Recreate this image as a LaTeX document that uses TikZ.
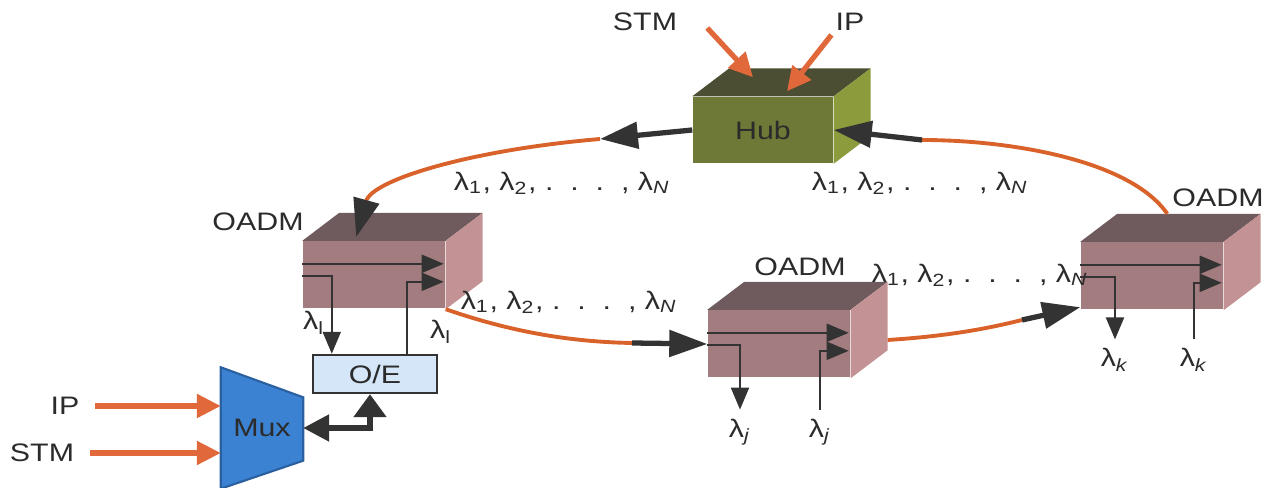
\documentclass[tikz,border=0pt]{standalone}
\usepackage{fontspec}
\setmainfont[FakeStretch=1.2]{Liberation Sans}
\usepackage{tikz}
\usetikzlibrary{
  arrows.meta,
  positioning,
  calc,
  backgrounds
}
\definecolor{rgFibre}{HTML}{D9622B}
\definecolor{rgFeed}{HTML}{E0683A}
\definecolor{rgDark}{HTML}{333333}
\definecolor{rgText}{HTML}{2B2B2B}
\definecolor{rgOadmFront}{HTML}{A27C7E}
\definecolor{rgOadmTop}{HTML}{6F5B5D}
\definecolor{rgOadmSide}{HTML}{C39294}
\definecolor{rgHubFront}{HTML}{6E7837}
\definecolor{rgHubTop}{HTML}{4B4E32}
\definecolor{rgHubSide}{HTML}{8C9B3C}
\definecolor{rgOE}{HTML}{D4E6F8}
\definecolor{rgMux}{HTML}{3C82D2}
\definecolor{rgMuxEdge}{HTML}{2A5FA0}
\newcommand{\lamlist}{λ\textsubscript{1}, λ\textsubscript{2}, .\ \ .\ \ .\ \ , λ\textsubscript{\textit{N}}}
\tikzset{
  rgtext/.style={font=\fontsize{7.2}{8}\selectfont, text=rgText, inner sep=1pt},
  cubefront/.style={rgtext, minimum width=14.2mm, minimum height=6.7mm, inner sep=0pt},
  oadm/.style={cubefront, fill=rgOadmFront},
  hubbox/.style={cubefront, fill=rgHubFront, minimum width=14mm, minimum height=6.6mm},
  oebox/.style={rgtext, draw=rgDark, line width=0.7pt, fill=rgOE, minimum width=12.4mm, minimum height=3.8mm},
  muxbox/.style={rgtext, minimum width=8.1mm, minimum height=12mm},
  fibre/.style={rgFibre, line width=1.1pt},
  ringarrow/.style={-{Triangle[length=3.8mm, width=2.6mm]}, rgDark, line width=1.5pt},
  feed/.style={-{Triangle[length=2.4mm, width=2.3mm]}, rgFeed, line width=1.5pt},
  chan/.style={-{Triangle[length=2.2mm, width=1.8mm]}, rgDark, line width=0.6pt},
  muxlink/.style={{Triangle[length=2.6mm, width=2.6mm]}-{Triangle[length=2.3mm, width=3.2mm]}, rgDark, line width=1.5pt}
}
\begin{document}
\begin{tikzpicture}[x=0.1mm, y=-0.1mm]
  \useasboundingbox (0,0) rectangle (1271,488);
  % boxes
  \node[hubbox] (hub) at (763,130) {Hub};
  \node[oadm] (oadmL) at (374,275) {};
  \node[oadm] (oadmM) at (779,344) {};
  \node[oadm] (oadmR) at (1152,276) {};
  \foreach \n/\t/\s in {oadmL/rgOadmTop/rgOadmSide, oadmM/rgOadmTop/rgOadmSide, oadmR/rgOadmTop/rgOadmSide, hub/rgHubTop/rgHubSide}{
    \fill[\t] (\n.north west) -- ++(37,-28) -- ($(\n.north east)+(37,-28)$) -- (\n.north east) -- cycle;
    \fill[\s] (\n.north east) -- ++(37,-28) -- ($(\n.south east)+(37,-28)$) -- (\n.south east) -- cycle;
  }
  \node[oebox] (oe) at (375,374) {O/E};
  \node[muxbox] (mux) at (262,428) {Mux};
  \begin{scope}[on background layer]
    \filldraw[fill=rgMux, draw=rgMuxEdge, line width=0.6pt] (mux.north west) -- ($(mux.north east)+(0,30)$) -- ($(mux.south east)+(0,-28)$) -- (mux.south west) -- cycle;
  \end{scope}

  % labels
  \node[rgtext] (stmHub) at (645,22) {STM};
  \node[rgtext] (ipHub) at (850,22) {IP};
  \node[rgtext] (ipMux) at (65,406) {IP};
  \node[rgtext] (stmMux) at (42,453) {STM};
  \node[rgtext] (nameL) at (258,222) {OADM};
  \node[rgtext] (nameM) at (800,267) {OADM};
  \node[rgtext] (nameR) at (1218,198) {OADM};
  \node[rgtext] (lamTL) at (562,183) {\lamlist};
  \node[rgtext] (lamTR) at (920,183) {\lamlist};
  \node[rgtext] (lamML) at (569,302) {\lamlist};
  \node[rgtext] (lamMR) at (980,275) {\lamlist};
  \node[rgtext] (dropL) at (314,323) {λ\textsubscript{l}};
  \node[rgtext] (addL) at (441,332) {λ\textsubscript{l}};
  \node[rgtext] (dropM) at (740,432) {λ\textsubscript{\textit{j}}};
  \node[rgtext] (addM) at (820,432) {λ\textsubscript{\textit{j}}};
  \node[rgtext] (dropR) at (1115,360) {λ\textsubscript{\textit{k}}};
  \node[rgtext] (addR) at (1194,360) {λ\textsubscript{\textit{k}}};

  % add/drop paths
  \draw[chan] ($(oadmL.north west)+(0,23)$) -- ($(oadmL.north east)+(-2,23)$);
  \draw[chan] ($(oadmL.north west)+(0,35)$) -| ([xshift=2mm]oe.north west);
  \draw[chan] ([xshift=-3.1mm]oe.north east) |- ($(oadmL.north east)+(-2,41)$);
  \foreach \n/\d/\a in {oadmM/dropM/addM, oadmR/dropR/addR}{
    \draw[chan] ($(\n.north west)+(0,23)$) -- ($(\n.north east)+(-2,23)$);
    \draw[chan, shorten >=0.5mm] ($(\n.north west)+(0,35)$) -| (\d.north);
    \draw[chan, shorten <=0.5mm] (\a.north) |- ($(\n.north east)+(-2,41)$);
  }

  % ring
  \coordinate (fA) at (600,139);
  \coordinate (inL) at ($(oadmL.north west)+(54,-4)$);
  \coordinate (outR) at ($(oadmR.north west)+(87,-28)$);
  \coordinate (fB) at (922,140);
  \coordinate (fC) at (632,343);
  \coordinate (fD) at (1022,320);
  \coordinate (inR) at ($(oadmR.south west)+(0,-3)$);
  \draw[ringarrow] (hub.west) -- (fA);
  \draw[fibre, -{Triangle[length=3.8mm, width=2.6mm, color=rgDark]}] (fA) .. controls (470,150) and (372,180) .. (inL);
  \draw[fibre] (outR) .. controls (1130,160) and (1010,140) .. (fB);
  \draw[ringarrow] (fB) -- (hub.east);
  \draw[fibre] (oadmL.south east) .. controls (520,335) and (580,342) .. (fC);
  \draw[ringarrow] (fC) -- (oadmM.west);
  \draw[fibre] ($(oadmM.east)+(37,-4)$) .. controls (950,336) and (990,328) .. (fD);
  \draw[ringarrow] (fD) -- (inR);

  % feeds
  \draw[feed] ([shift={(26,6)}]stmHub.east) -- ($(hub.north)+(-10,-19)$);
  \draw[feed] (ipHub.south west) -- ($(hub.north)+(24,-5)$);
  \draw[feed, shorten <=1.1mm] (ipMux.east) -- (ipMux.east -| mux.west);
  \draw[feed, shorten <=1.2mm] (stmMux.east) -- (stmMux.east -| mux.west);
  \draw[muxlink] (mux.east) -| ([xshift=-0.5mm]oe.south);
\end{tikzpicture}
\end{document}
